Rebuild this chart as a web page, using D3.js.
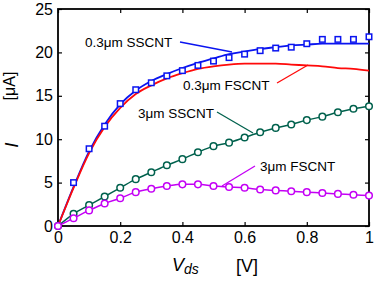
<!DOCTYPE html>
<html>
<head>
<meta charset="utf-8">
<script src="https://cdn.jsdelivr.net/npm/d3@7"></script>
<style>
  body { margin: 0; background: #fff; }
  svg { display: block; font-family: Arial, "Liberation Sans", sans-serif; }
</style>
</head>
<body>
<svg id="chart" width="374" height="295"></svg>
<script>
// drain voltage grid (V)
const vds = [0, 0.05, 0.1, 0.15, 0.2, 0.25, 0.3, 0.35, 0.4, 0.45, 0.5,
             0.55, 0.6, 0.65, 0.7, 0.75, 0.8, 0.85, 0.9, 0.95, 1.0];

// 0.3um SSCNT measured points (squares, no point at 0)
const ssShortPts = [null, 5.0, 8.9, 11.5, 14.1, 15.7, 16.5, 17.3, 17.9, 18.5, 19.0,
                    19.4, 19.8, 20.2, 20.5, 20.6, 21.0, 21.5, 21.5, 21.5, 21.8];
// 0.3um SSCNT curve
const ssShortFit = [0, 4.5, 8.6, 11.7, 14.0, 15.6, 16.7, 17.5, 18.2, 18.8, 19.3,
                    19.8, 20.1, 20.4, 20.6, 20.8, 20.9, 21.0, 21.0, 21.0, 21.0];
// 0.3um FSCNT curve
const fsShort = [0, 4.4, 8.4, 11.4, 13.6, 15.2, 16.2, 17.0, 17.6, 18.1, 18.4,
                 18.6, 18.7, 18.7, 18.7, 18.6, 18.5, 18.4, 18.2, 18.1, 17.9];
// 3um SSCNT
const ssLong = [0, 1.4, 2.4, 3.4, 4.4, 5.4, 6.2, 7.0, 7.7, 8.5, 9.2,
                9.6, 10.2, 10.8, 11.3, 11.7, 12.2, 12.6, 13.1, 13.5, 13.8];
// 3um FSCNT
const fsLong = [0, 0.9, 1.8, 2.6, 3.2, 3.9, 4.3, 4.6, 4.8, 4.8, 4.6,
                4.5, 4.4, 4.2, 4.1, 4.0, 3.9, 3.8, 3.7, 3.6, 3.5];

const xTicks = [0, 0.2, 0.4, 0.6, 0.8, 1];
const yTicks = [0, 5, 10, 15, 20, 25];

const margin = {top: 9, left: 58};
const width = 311, height = 217;

const svg = d3.select("#chart");
const g = svg.append("g").attr("transform", `translate(${margin.left},${margin.top})`);

const x = d3.scaleLinear().domain([0, 1]).range([0, width]);
const y = d3.scaleLinear().domain([0, 25]).range([height, 0]);

// inward ticks on all four sides
const tickLen = 4;
g.append("g").attr("transform", `translate(0,${height})`)
  .call(d3.axisBottom(x).tickValues(xTicks).tickSizeInner(-tickLen).tickSizeOuter(0)
        .tickPadding(6).tickFormat(d3.format("")));
g.append("g").attr("transform", `translate(0,0)`)
  .call(d3.axisTop(x).tickValues(xTicks).tickSizeInner(-tickLen).tickSizeOuter(0).tickFormat(""));
g.append("g")
  .call(d3.axisLeft(y).tickValues(yTicks).tickSizeInner(-tickLen).tickSizeOuter(0).tickPadding(5));
g.append("g").attr("transform", `translate(${width},0)`)
  .call(d3.axisRight(y).tickValues(yTicks).tickSizeInner(-tickLen).tickSizeOuter(0).tickFormat(""));

g.selectAll(".domain").remove();
g.selectAll(".tick line").attr("stroke", "#000").attr("stroke-width", 1.2);
g.selectAll(".tick text").attr("font-size", 16).attr("fill", "#000")
  .attr("font-family", "Arial, 'Liberation Sans', sans-serif");

g.append("rect").attr("width", width).attr("height", height)
  .attr("fill", "none").attr("stroke", "#000").attr("stroke-width", 1.8);

const line = d3.line().x((d, i) => x(vds[i])).y(d => y(d)).curve(d3.curveMonotoneX);

const blue = "#0a14f0", red = "#ff0a0a", green = "#00614d", purple = "#c400f5";

// curves
g.append("path").datum(ssShortFit).attr("d", line)
  .attr("fill", "none").attr("stroke", blue).attr("stroke-width", 1.8);
g.append("path").datum(fsShort).attr("d", line)
  .attr("fill", "none").attr("stroke", red).attr("stroke-width", 1.8);
g.append("path").datum(ssLong).attr("d", line)
  .attr("fill", "none").attr("stroke", green).attr("stroke-width", 1.5);
g.append("path").datum(fsLong).attr("d", line)
  .attr("fill", "none").attr("stroke", purple).attr("stroke-width", 1.5);

// markers
const sq = 5.5;
g.selectAll("rect.sq").data(ssShortPts.map((v, i) => [vds[i], v]).filter(d => d[1] !== null))
  .join("rect").attr("class", "sq")
  .attr("x", d => x(d[0]) - sq / 2).attr("y", d => y(d[1]) - sq / 2)
  .attr("width", sq).attr("height", sq)
  .attr("fill", "#fff").attr("stroke", blue).attr("stroke-width", 1.5);

[[ssLong, green], [fsLong, purple]].forEach(([vals, col]) => {
  g.selectAll(null).data(vals).join("circle")
    .attr("cx", (d, i) => x(vds[i])).attr("cy", d => y(d)).attr("r", 3.3)
    .attr("fill", "#fff").attr("stroke", col).attr("stroke-width", 1.5);
});

// labels with callouts (svg coords)
const labels = [
  {text: "0.3\u03bcm SSCNT", tx: 85, ty: 47, col: blue, l: [180, 42, 232, 52]},
  {text: "0.3\u03bcm FSCNT", tx: 183, ty: 90, col: red, l: [277, 83, 308, 65]},
  {text: "3\u03bcm SSCNT", tx: 138, ty: 118, col: green, l: [217, 112, 253, 133]},
  {text: "3\u03bcm FSCNT", tx: 260, ty: 171, col: purple, l: [255, 166, 222, 186]}
];
labels.forEach(d => {
  svg.append("line").attr("x1", d.l[0]).attr("y1", d.l[1]).attr("x2", d.l[2]).attr("y2", d.l[3])
    .attr("stroke", d.col).attr("stroke-width", 1.3);
  svg.append("text").attr("x", d.tx).attr("y", d.ty).attr("font-size", 13.5)
    .attr("fill", "#000").text(d.text);
});

// axis titles
svg.append("text").attr("transform", "translate(18,145) rotate(-90)")
  .attr("text-anchor", "middle").attr("font-size", 19).attr("font-style", "italic").text("I");
svg.append("text").attr("transform", "translate(15,86) rotate(-90)")
  .attr("text-anchor", "middle").attr("font-size", 16).text("[\u03bcA]");

const xl = svg.append("text").attr("x", 172).attr("y", 271).attr("font-size", 18);
xl.append("tspan").attr("font-style", "italic").text("V");
xl.append("tspan").attr("font-style", "italic").attr("font-size", 14).attr("dy", 3).text("ds");
svg.append("text").attr("x", 236).attr("y", 272).attr("font-size", 18).text("[V]");
</script>
</body>
</html>
